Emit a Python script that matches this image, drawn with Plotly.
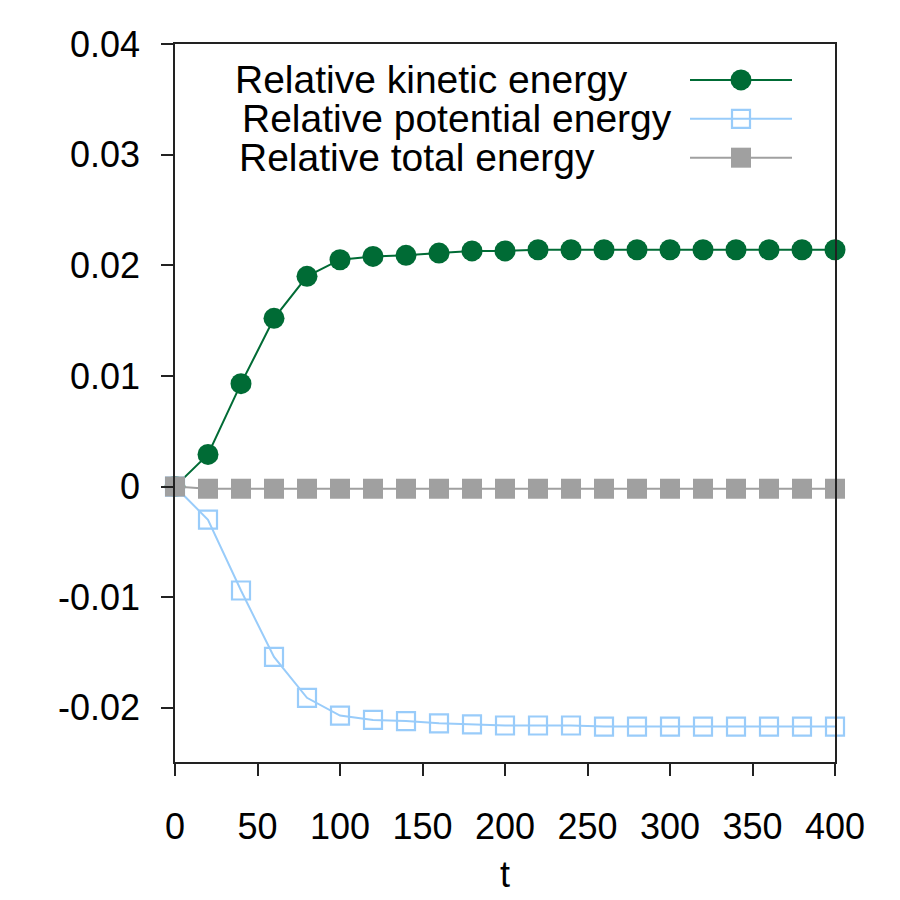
import plotly.graph_objects as go

t = list(range(0, 401, 20))
kinetic = [0.0, 0.0029, 0.0093, 0.0152, 0.0190, 0.0205, 0.0208, 0.0209, 0.0211, 0.0213,
           0.0213, 0.0214, 0.0214, 0.0214, 0.0214, 0.0214, 0.0214, 0.0214, 0.0214, 0.0214, 0.0214]
potential = [0.0, -0.0030, -0.0094, -0.0154, -0.0191, -0.0207, -0.0211, -0.0212, -0.0214, -0.0215,
             -0.0216, -0.0216, -0.0216, -0.0217, -0.0217, -0.0217, -0.0217, -0.0217, -0.0217, -0.0217, -0.0217]
total = [0.0] + [-0.0002] * 20

names = ["Relative kinetic energy", "Relative potential energy", "Relative total energy"]
colors = ["#006b35", "#99ccfa", "#a0a0a0"]
x_ticks = [0, 50, 100, 150, 200, 250, 300, 350, 400]
y_ticks = [-0.02, -0.01, 0, 0.01, 0.02, 0.03, 0.04]
y_labels = ["-0.02", "-0.01", "0", "0.01", "0.02", "0.03", "0.04"]

FONT = "Liberation Sans, Arial, Helvetica, sans-serif"
FS = 36
FS_KEY = 39

fig = go.Figure()
fig.add_trace(go.Scatter(x=t, y=kinetic, mode="lines+markers", name=names[0],
                         line=dict(color=colors[0], width=2),
                         marker=dict(symbol="circle", size=21, color=colors[0]),
                         cliponaxis=False, showlegend=False))
fig.add_trace(go.Scatter(x=t, y=potential, mode="lines+markers", name=names[1],
                         line=dict(color=colors[1], width=2),
                         marker=dict(symbol="square-open", size=18, color=colors[1],
                                     line=dict(width=2.2, color=colors[1])),
                         cliponaxis=False, showlegend=False))
fig.add_trace(go.Scatter(x=t, y=total, mode="lines+markers", name=names[2],
                         line=dict(color=colors[2], width=2),
                         marker=dict(symbol="square", size=20, color=colors[2]),
                         cliponaxis=False, showlegend=False))

# Custom key (text left, sample right) on a hidden overlay axis
L, R, T, B = 175, 65, 44, 136
W, H = 900 - L - R, 900 - T - B
def px(x):
    return (x - L) / W
def py(y):
    return (900 - B - y) / H

key_rows = [80, 119, 158]
key_text_x = [233, 240, 237]
symbols = ["circle", "square-open", "square"]
for i in range(3):
    yy = py(key_rows[i])
    fig.add_trace(go.Scatter(x=[px(690), px(792)], y=[yy, yy], mode="lines",
                             line=dict(color=colors[i], width=2),
                             xaxis="x2", yaxis="y2", showlegend=False, hoverinfo="skip"))
    mk = dict(symbol=symbols[i], size=21 if i == 0 else (18 if i == 1 else 20), color=colors[i])
    if i == 1:
        mk["line"] = dict(width=2.2, color=colors[i])
    fig.add_trace(go.Scatter(x=[px(741)], y=[yy], mode="markers", marker=mk,
                             xaxis="x2", yaxis="y2", showlegend=False, hoverinfo="skip"))
    fig.add_annotation(x=px(key_text_x[i]), y=yy, xref="paper", yref="paper",
                       text=names[i], showarrow=False, xanchor="left", yanchor="middle",
                       font=dict(family=FONT, size=FS_KEY, color="black"))

axis_common = dict(showline=True, linecolor="#222", linewidth=1.5, mirror=True,
                   ticks="outside", ticklen=12, tickwidth=1.5, tickcolor="#222",
                   showgrid=False, zeroline=False,
                   tickfont=dict(family=FONT, size=FS, color="black"))

fig.update_layout(
    width=900, height=900,
    margin=dict(l=L, r=R, t=T, b=B),
    plot_bgcolor="white", paper_bgcolor="white",
    xaxis=dict(range=[0, 400], tickvals=x_ticks, ticklabelstandoff=20,
               title=dict(text="t", font=dict(family=FONT, size=FS, color="black"), standoff=16),
               **axis_common),
    yaxis=dict(range=[-0.0249, 0.04], tickvals=y_ticks, ticktext=y_labels, ticklabelstandoff=14,
               **axis_common),
    xaxis2=dict(range=[0, 1], overlaying="x", visible=False, fixedrange=True),
    yaxis2=dict(range=[0, 1], overlaying="y", visible=False, fixedrange=True),
    showlegend=False,
)

fig.write_html("out.html")
